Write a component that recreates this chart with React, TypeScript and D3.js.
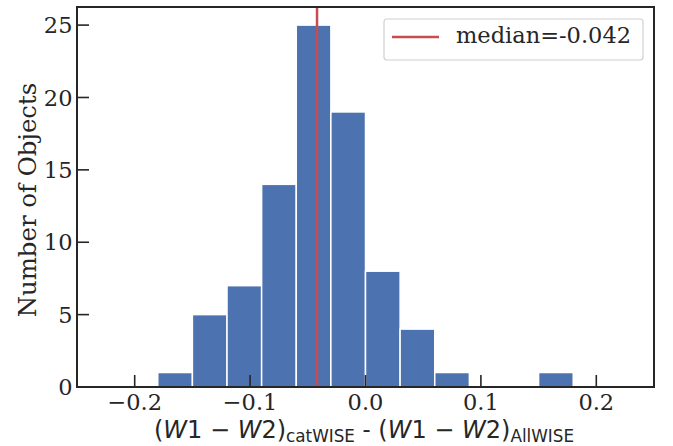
import React from "react";
import * as d3 from "d3";

const binEdges = [-0.18, -0.15, -0.12, -0.09, -0.06, -0.03, 0.0, 0.03, 0.06, 0.09, 0.12, 0.15, 0.18];
const counts = [1, 5, 7, 14, 25, 19, 8, 4, 1, 0, 0, 1];
const xTicks = [-0.2, -0.1, 0.0, 0.1, 0.2];
const yTicks = [0, 5, 10, 15, 20, 25];
const medianValue = -0.042;
const legendLabel = "median=-0.042";

const W = 673, H = 446;
const left = 77, right = 654, top = 7, bottom = 387;
const serif = "'DejaVu Serif', serif";
const sans = "'DejaVu Sans', sans-serif";

export default function App() {
  const x = d3.scaleLinear().domain([-0.25, 0.25]).range([left, right]);
  const y = d3.scaleLinear().domain([0, 26.25]).range([bottom, top]);
  const bins = counts.map((c, i) => ({ x0: binEdges[i], x1: binEdges[i + 1], c }));
  const fmt = (v: number) => (v < 0 ? "\u2212" : "") + Math.abs(v).toFixed(1);
  const axisColor = "#262626";
  const tickFont = 22.5;
  return (
    <svg width={W} height={H} style={{ position: "absolute", left: 0, top: 0, background: "white" }}>
      <rect x={0} y={0} width={W} height={H} fill="white" />
      {bins.filter(b => b.c > 0).map((b, i) => (
        <rect key={i} x={x(b.x0)} y={y(b.c)} width={x(b.x1) - x(b.x0)} height={y(0) - y(b.c)}
          fill="#4c72b0" stroke="white" strokeWidth={1.5} />
      ))}
      <line x1={x(medianValue)} x2={x(medianValue)} y1={top} y2={bottom} stroke="#c44e52" strokeWidth={2.5} />
      {xTicks.map(t => (
        <g key={"x" + t}>
          <line x1={x(t)} x2={x(t)} y1={bottom} y2={bottom - 12} stroke={axisColor} strokeWidth={1.6} />
          <text x={x(t)} y={410} textAnchor="middle" fontFamily={serif} fontSize={tickFont} fill={axisColor}>{fmt(t)}</text>
        </g>
      ))}
      {yTicks.map(t => (
        <g key={"y" + t}>
          <line x1={left} x2={left + 12} y1={y(t)} y2={y(t)} stroke={axisColor} strokeWidth={1.6} />
          <text x={72.5} y={y(t)} dy="0.36em" textAnchor="end" fontFamily={serif} fontSize={tickFont} fill={axisColor}>{t}</text>
        </g>
      ))}
      <rect x={left} y={top} width={right - left} height={bottom - top} fill="none" stroke={axisColor} strokeWidth={2} />
      <rect x={384} y={19} width={259} height={41} rx={3} fill="white" fillOpacity={0.8} stroke="#d0d0d0" strokeWidth={1.2} />
      <line x1={392} x2={439} y1={37} y2={37} stroke="#c44e52" strokeWidth={2.5} />
      <text x={456} y={42.5} fontFamily={serif} fontSize={22.5} fill={axisColor}>{legendLabel}</text>
      <text transform={`translate(36,${(top + bottom) / 2 + 3}) rotate(-90)`} textAnchor="middle" fontFamily={serif} fontSize={24.4} fill={axisColor}>Number of Objects</text>
      <text x={364} y={438} textAnchor="middle" fontFamily={sans} fontSize={24} fill={axisColor}>
        <tspan>(</tspan><tspan fontStyle="italic">W</tspan><tspan>1 − </tspan><tspan fontStyle="italic">W</tspan><tspan>2)</tspan>
        <tspan fontSize={16.8} dy={4}>catWISE</tspan>
        <tspan dy={-4} fontFamily={serif}> - </tspan>
        <tspan>(</tspan><tspan fontStyle="italic">W</tspan><tspan>1 − </tspan><tspan fontStyle="italic">W</tspan><tspan>2)</tspan>
        <tspan fontSize={16.8} dy={4}>AllWISE</tspan>
      </text>
    </svg>
  );
}
